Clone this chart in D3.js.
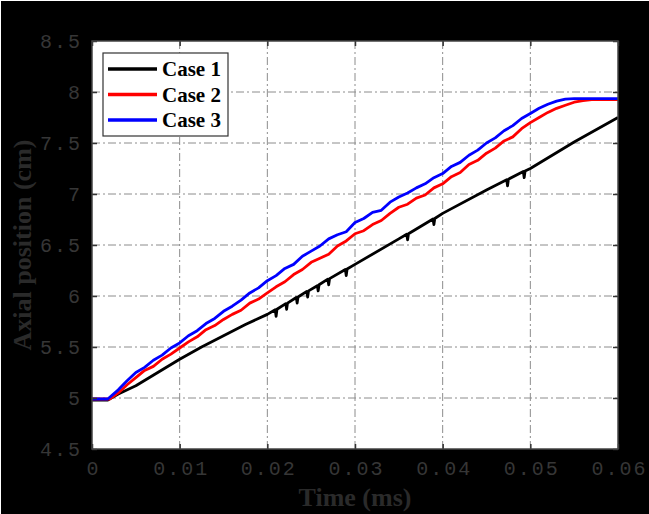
<!DOCTYPE html>
<html>
<body style="margin:0;background:#fff;">
    <style>
        .tick text { font-family: "Liberation Mono", monospace; font-size: 20px; letter-spacing: 2px; fill: #363636; }
        .title { font-family: "Liberation Serif", serif; font-weight: bold; font-size: 26px; fill: #2a2a2a; }
        .legend text { font-family: "Liberation Serif", serif; font-weight: bold; font-size: 21px; fill: #000; }
    </style>
    <script src="https://cdn.jsdelivr.net/npm/d3@7"></script>
    <script>

var xTicks = [0, 0.01, 0.02, 0.03, 0.04, 0.05, 0.06],
    xTickLabels = ["0", "0.01", "0.02", "0.03", "0.04", "0.05", "0.06"];
var yTicks = [4.5, 5, 5.5, 6, 6.5, 7, 7.5, 8, 8.5],
    yTickLabels = ["4.5", "5", "5.5", "6", "6.5", "7", "7.5", "8", "8.5"];

var seriesNames = ["Case 1", "Case 2", "Case 3"],
    seriesColors = ["#000000", "#ff0000", "#0000ff"];

// Case 1 (black), with the little notches seen along the line
var case1T = [0, 0.0018, 0.003, 0.005, 0.0075, 0.01, 0.0125, 0.015, 0.0175, 0.02,
              0.0209, 0.021, 0.0211, 0.0221, 0.0222, 0.0223, 0.0233, 0.0234, 0.0235,
              0.0245, 0.0246, 0.0247, 0.0257, 0.0258, 0.0259, 0.0269, 0.027, 0.0271,
              0.0289, 0.029, 0.0291, 0.03, 0.035, 0.0359, 0.036, 0.0361,
              0.0389, 0.039, 0.0391, 0.04, 0.045, 0.0473, 0.0474, 0.0475,
              0.0492, 0.0493, 0.0494, 0.05, 0.055, 0.06];
var case1Y = [4.98, 4.98, 5.04, 5.12, 5.25, 5.38, 5.50, 5.61, 5.72, 5.82,
              5.865, 5.80, 5.87, 5.925, 5.87, 5.93, 5.985, 5.93, 5.99,
              6.045, 5.99, 6.05, 6.10, 6.05, 6.11, 6.165, 6.11, 6.17,
              6.26, 6.20, 6.265, 6.31, 6.56, 6.605, 6.55, 6.61,
              6.755, 6.70, 6.76, 6.81, 7.04, 7.14, 7.08, 7.145,
              7.22, 7.16, 7.225, 7.25, 7.51, 7.75];

// Case 2 (red)
var case2T = [0, 0.002, 0.003, 0.004, 0.005, 0.006, 0.007, 0.008, 0.009, 0.010,
              0.011, 0.012, 0.013, 0.014, 0.015, 0.016, 0.017, 0.018, 0.019, 0.020,
              0.021, 0.022, 0.023, 0.024, 0.025, 0.026, 0.027, 0.028, 0.029, 0.030,
              0.031, 0.032, 0.033, 0.034, 0.035, 0.036, 0.037, 0.038, 0.039, 0.040,
              0.041, 0.042, 0.043, 0.044, 0.045, 0.046, 0.047, 0.048, 0.049, 0.050,
              0.051, 0.052, 0.053, 0.054, 0.055, 0.056, 0.057, 0.06];
var case2Y = [4.99, 4.99, 5.05, 5.13, 5.20, 5.27, 5.31, 5.38, 5.43, 5.49,
              5.55, 5.60, 5.67, 5.71, 5.77, 5.82, 5.86, 5.93, 5.97, 6.03,
              6.09, 6.14, 6.21, 6.26, 6.33, 6.37, 6.41, 6.49, 6.54, 6.61,
              6.64, 6.70, 6.74, 6.81, 6.87, 6.90, 6.96, 6.99, 7.06, 7.10,
              7.17, 7.21, 7.29, 7.33, 7.40, 7.45, 7.52, 7.56, 7.64, 7.70,
              7.75, 7.80, 7.84, 7.87, 7.90, 7.915, 7.925, 7.925];

// Case 3 (blue)
var case3T = [0, 0.0018, 0.003, 0.004, 0.005, 0.006, 0.007, 0.008, 0.009, 0.010,
              0.011, 0.012, 0.013, 0.014, 0.015, 0.016, 0.017, 0.018, 0.019, 0.020,
              0.021, 0.022, 0.023, 0.024, 0.025, 0.026, 0.027, 0.028, 0.029, 0.030,
              0.031, 0.032, 0.033, 0.034, 0.035, 0.036, 0.037, 0.038, 0.039, 0.040,
              0.041, 0.042, 0.043, 0.044, 0.045, 0.046, 0.047, 0.048, 0.049, 0.050,
              0.051, 0.052, 0.053, 0.054, 0.055, 0.06];
var case3Y = [4.99, 4.99, 5.08, 5.17, 5.25, 5.30, 5.37, 5.42, 5.49, 5.54,
              5.61, 5.66, 5.73, 5.78, 5.85, 5.90, 5.96, 6.03, 6.08, 6.15,
              6.20, 6.27, 6.31, 6.39, 6.44, 6.49, 6.56, 6.60, 6.63, 6.72,
              6.76, 6.82, 6.84, 6.92, 6.97, 7.01, 7.06, 7.10, 7.16, 7.20,
              7.27, 7.31, 7.38, 7.43, 7.50, 7.55, 7.62, 7.67, 7.74, 7.79,
              7.84, 7.88, 7.91, 7.93, 7.935, 7.935];

var width = 649,
    height = 514;
var plotLeft = 92, plotRight = 618, plotTop = 41, plotBottom = 449;

var svg = d3.select("body")
    .append("svg")
    .attr("width", width)
    .attr("height", height)
    .style("display", "block");

svg.append("rect")
    .attr("x", 1).attr("y", 1)
    .attr("width", width - 1).attr("height", height - 1)
    .attr("fill", "#000");

var x = d3.scaleLinear().domain([0, 0.06]).range([plotLeft, plotRight]);
var y = d3.scaleLinear().domain([4.5, 8.5]).range([plotBottom, plotTop]);

svg.append("rect")
    .attr("x", plotLeft).attr("y", plotTop)
    .attr("width", plotRight - plotLeft).attr("height", plotBottom - plotTop)
    .attr("fill", "#fff");

// dash-dot grid
var grid = svg.append("g")
    .attr("stroke", "#8c8c8c")
    .attr("stroke-width", 1)
    .attr("stroke-dasharray", "8,3,2,3");

grid.selectAll(".gx")
    .data(xTicks.slice(1, -1))
  .enter().append("line")
    .attr("x1", function(d) { return x(d); })
    .attr("x2", function(d) { return x(d); })
    .attr("y1", plotTop).attr("y2", plotBottom);

grid.selectAll(".gy")
    .data(yTicks.slice(1, -1))
  .enter().append("line")
    .attr("y1", function(d) { return y(d); })
    .attr("y2", function(d) { return y(d); })
    .attr("x1", plotLeft).attr("x2", plotRight);

// curves
var cases = [
  { t: case1T, v: case1Y },
  { t: case2T, v: case2Y },
  { t: case3T, v: case3Y }
];

var line = d3.line()
    .x(function(d) { return x(d[0]); })
    .y(function(d) { return y(d[1]); });

svg.selectAll(".curve")
    .data(cases)
  .enter().append("path")
    .attr("class", "curve")
    .attr("fill", "none")
    .attr("stroke", function(d, i) { return seriesColors[i]; })
    .attr("stroke-width", 2.8)
    .attr("stroke-linejoin", "round")
    .attr("d", function(d) { return line(d3.zip(d.t, d.v)); });

// axes, ticks point inward
function styleAxis(g) {
    g.select(".domain").remove();
    g.selectAll(".tick line").attr("stroke", "#333").attr("stroke-width", 1.5);
}

svg.append("g")
    .attr("transform", "translate(0," + plotBottom + ")")
    .call(d3.axisBottom(x).tickValues(xTicks)
        .tickFormat(function(d, i) { return xTickLabels[i]; })
        .tickSize(-5).tickPadding(12))
    .call(styleAxis)
    .selectAll("text").attr("dx", "1px");

svg.append("g")
    .attr("transform", "translate(" + plotLeft + ",0)")
    .call(d3.axisLeft(y).tickValues(yTicks)
        .tickFormat(function(d, i) { return yTickLabels[i]; })
        .tickSize(-5).tickPadding(10))
    .call(styleAxis);

svg.append("g")
    .attr("transform", "translate(0," + plotTop + ")")
    .call(d3.axisTop(x).tickValues(xTicks).tickFormat("").tickSize(-5))
    .call(styleAxis);

svg.append("g")
    .attr("transform", "translate(" + plotRight + ",0)")
    .call(d3.axisRight(y).tickValues(yTicks).tickFormat("").tickSize(-5))
    .call(styleAxis);

svg.append("rect")
    .attr("x", plotLeft).attr("y", plotTop)
    .attr("width", plotRight - plotLeft).attr("height", plotBottom - plotTop)
    .attr("fill", "none")
    .attr("stroke", "#444")
    .attr("stroke-width", 1.5);

// axis titles
svg.append("text")
    .attr("class", "title")
    .attr("x", (plotLeft + plotRight) / 2)
    .attr("y", 506)
    .attr("text-anchor", "middle")
    .text("Time (ms)");

svg.append("text")
    .attr("class", "title")
    .attr("transform", "translate(31," + (plotTop + plotBottom) / 2 + ") rotate(-90)")
    .attr("text-anchor", "middle")
    .text("Axial position (cm)");

// legend
var legend = svg.append("g").attr("class", "legend");

legend.append("rect")
    .attr("x", 103).attr("y", 53)
    .attr("width", 125).attr("height", 83)
    .attr("fill", "#fff")
    .attr("stroke", "#333")
    .attr("stroke-width", 1.2);

var items = legend.selectAll(".item")
    .data(seriesNames)
  .enter().append("g")
    .attr("class", "item")
    .attr("transform", function(d, i) { return "translate(0," + (69 + i * 25.5) + ")"; });

items.append("line")
    .attr("x1", 108).attr("x2", 157)
    .attr("stroke", function(d, i) { return seriesColors[i]; })
    .attr("stroke-width", 3.4);

items.append("text")
    .attr("x", 162)
    .attr("y", 7)
    .text(function(d) { return d; });

    </script>
</body>
</html>
